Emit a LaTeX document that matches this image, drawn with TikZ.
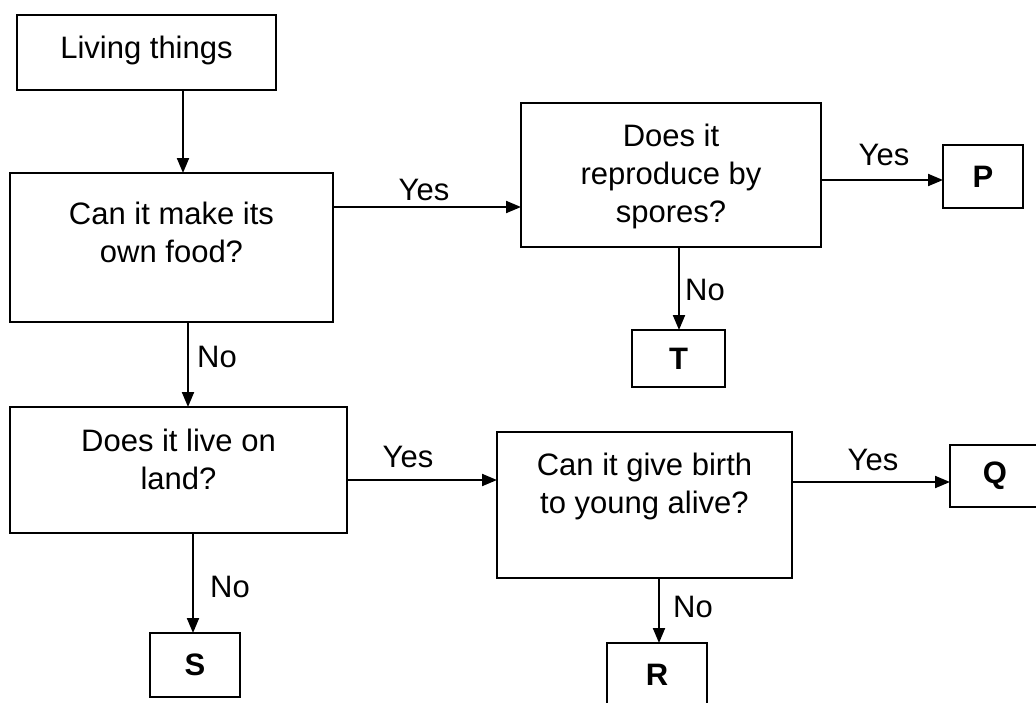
\documentclass[tikz,border=0pt]{standalone}
\usepackage{fontspec}
\setmainfont{Liberation Sans}
\usetikzlibrary{arrows.meta}
\begin{document}
\begin{tikzpicture}[x=1pt,y=-1pt,
  box/.style={draw, line width=2pt, inner sep=0pt, outer sep=0pt},
  txt/.style={align=center, font=\fontsize{31}{38}\selectfont, inner sep=0pt},
  lbl/.style={font=\fontsize{31}{38}\selectfont, inner sep=0pt},
  letter/.style={box, font=\fontsize{31}{38}\selectfont\bfseries},
  arr/.style={line width=2pt, -{Triangle[length=15pt,width=12pt]}}]
\useasboundingbox (0,0) rectangle (1036,702);
% boxes
\node[box, minimum width=259pt, minimum height=75pt] (living) at (146.5,52.5) {};
\node[txt] (livingtxt) at (146.5,50) {Living things};
\node[box, minimum width=323pt, minimum height=149pt] (food) at (171.5,247.5) {};
\node[txt] (foodtxt) at (171.5,232) {Can it make its\\own food?};
\node[box, minimum width=300pt, minimum height=144pt] (spores) at (671,175) {};
\node[txt] (sporestxt) at (671,176) {Does it\\reproduce by\\spores?};
\node[letter, minimum width=80pt, minimum height=63pt] (P) at (983,176.5) {P};
\node[letter, minimum width=93pt, minimum height=57pt] (T) at (678.5,358.5) {T};
\node[box, minimum width=337pt, minimum height=126pt] (land) at (178.5,470) {};
\node[txt] (landtxt) at (178.5,459) {Does it live on\\land?};
\node[box, minimum width=295pt, minimum height=146pt] (birth) at (644.5,505) {};
\node[txt] (birthtxt) at (644.5,486) {Can it give birth\\to young alive?};
\node[letter, minimum width=90pt, minimum height=62pt] (Q) at (995,476) {Q};
\node[letter, minimum width=90pt, minimum height=64pt] (S) at (195,665) {S};
\node[letter, minimum width=100pt, minimum height=64pt] (R) at (657,675) {R};
% connectors
\draw[arr] ([xshift=36.5pt]living.south) -- ([xshift=36.5pt]living.south |- food.north);
\draw[arr] ([yshift=40.5pt]food.east) -- ([yshift=40.5pt]food.east -| spores.west);
\draw[arr] ([yshift=-5pt]spores.east) -- ([yshift=-5pt]spores.east -| P.west);
\draw[arr] ([xshift=8pt]spores.south) -- ([xshift=8pt]spores.south |- T.north);
\draw[arr] ([xshift=16.5pt]food.south) -- ([xshift=16.5pt]food.south |- land.north);
\draw[arr] ([yshift=-10pt]land.east) -- ([yshift=-10pt]land.east -| birth.west);
\draw[arr] ([xshift=14.5pt]land.south) -- ([xshift=14.5pt]land.south |- S.north);
\draw[arr] ([yshift=23pt]birth.east) -- ([yshift=23pt]birth.east -| Q.west);
\draw[arr] ([xshift=14.5pt]birth.south) -- ([xshift=14.5pt]birth.south |- R.north);
% labels
\node[lbl] (yes1) at (424,190) {Yes};
\node[lbl] (yes2) at (884,155) {Yes};
\node[lbl] (no1) at (705,290) {No};
\node[lbl] (no2) at (217,357) {No};
\node[lbl] (yes3) at (408,457) {Yes};
\node[lbl] (no3) at (230,587) {No};
\node[lbl] (yes4) at (873,460) {Yes};
\node[lbl] (no4) at (693,607) {No};
\end{tikzpicture}
\end{document}
